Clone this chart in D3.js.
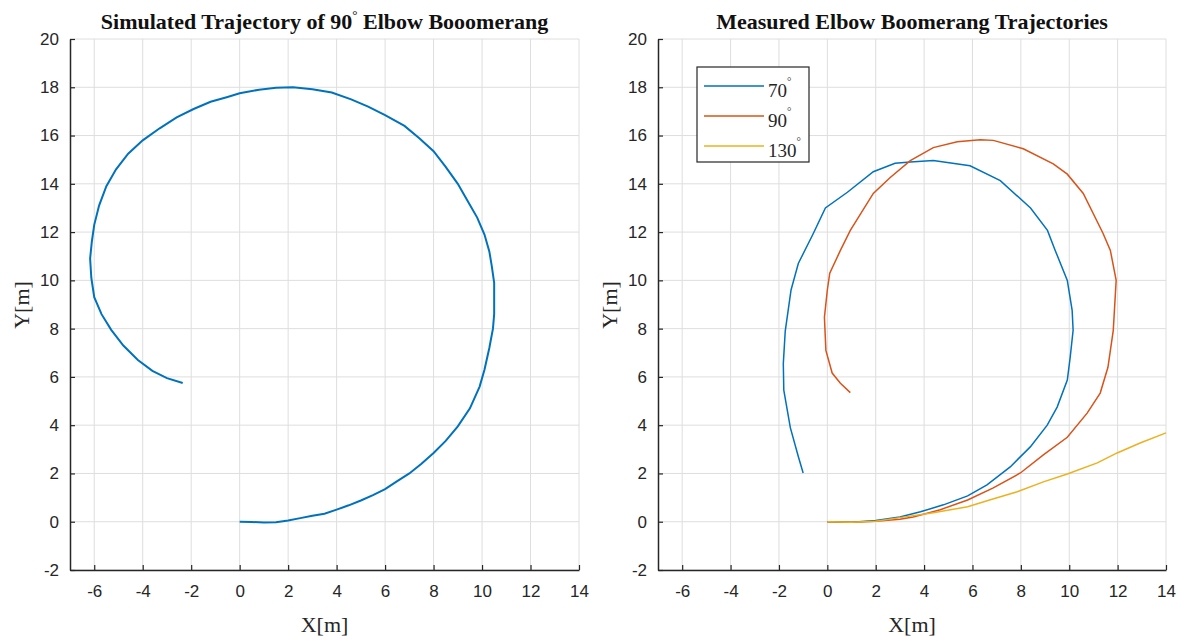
<!DOCTYPE html>
<html>
<head>
<meta charset="utf-8">
<script src="https://cdn.jsdelivr.net/npm/d3@7"></script>
<style>
  body { margin: 0; background: #fff; }
  svg { display: block; }
  .tick text { font-family: "Liberation Sans", Arial, sans-serif; font-size: 17px; fill: #262626; }
  .ttl { font-family: "Liberation Serif", "Times New Roman", serif; font-weight: bold; font-size: 22px; fill: #111; }
  .lab { font-family: "Liberation Serif", "Times New Roman", serif; font-size: 22px; fill: #262626; }
  .leg { font-family: "Liberation Serif", "Times New Roman", serif; font-size: 19px; fill: #262626; }
</style>
</head>
<body>
<script>
// ticks
var xTicks = [-6, -4, -2, 0, 2, 4, 6, 8, 10, 12, 14]
var yTicks = [-2, 0, 2, 4, 6, 8, 10, 12, 14, 16, 18, 20]

// simulated 90 deg trajectory [x, y]
var sim90 = [[0,0],[0.5,-0.01],[1,-0.03],[1.5,-0.02],[2,0.05],[2.5,0.15],[3,0.25],[3.5,0.33],[4,0.5],[4.5,0.68],
  [5,0.88],[5.5,1.1],[6,1.35],[6.5,1.68],[7,2.0],[7.5,2.4],[8,2.85],[8.5,3.35],[9,3.95],[9.5,4.7],[9.9,5.6],
  [10.1,6.3],[10.3,7.2],[10.45,8.0],[10.5,8.6],[10.5,9.2],[10.5,9.9],[10.4,10.6],[10.3,11.2],[10.1,11.9],
  [9.8,12.6],[9.4,13.3],[9.0,14.0],[8.5,14.7],[8.0,15.35],[7.4,15.9],[6.8,16.4],[6.0,16.85],[5.3,17.2],
  [4.6,17.5],[3.8,17.78],[3,17.92],[2.2,18.0],[1.5,17.98],[0.8,17.9],[0,17.75],[-0.5,17.6],[-1.2,17.4],
  [-1.9,17.1],[-2.6,16.75],[-3.3,16.3],[-4.0,15.8],[-4.6,15.25],[-5.1,14.6],[-5.5,13.9],[-5.8,13.1],
  [-6.0,12.3],[-6.1,11.6],[-6.17,10.9],[-6.12,10.1],[-6.0,9.3],[-5.7,8.6],[-5.3,7.95],[-4.8,7.3],
  [-4.2,6.7],[-3.6,6.25],[-3.0,5.95],[-2.35,5.75]]

// measured trajectories [x, y]
var meas70 = [[0,0],[1,-0.02],[2,0.05],[3,0.2],[3.85,0.41],[4.8,0.7],[5.8,1.07],[6.6,1.53],[7.56,2.27],
  [8.39,3.1],[9.09,4.0],[9.5,4.75],[9.92,5.87],[10.04,6.82],[10.16,7.93],[10.12,8.76],[9.92,10.0],
  [9.42,11.24],[9.1,12.07],[8.4,13.0],[7.15,14.13],[5.9,14.75],[4.38,14.97],[3.43,14.9],[2.8,14.85],
  [1.9,14.5],[0.83,13.65],[-0.08,13.0],[-0.6,11.9],[-1.2,10.7],[-1.5,9.6],[-1.74,7.9],[-1.82,6.55],
  [-1.8,5.45],[-1.53,3.9],[-1.2,2.7],[-1.0,2.02]]
var meas90 = [[0,0],[1,-0.02],[2,0.02],[3,0.1],[3.55,0.2],[4.67,0.5],[5.8,0.9],[6.86,1.4],[7.98,2.02],
  [8.93,2.77],[9.92,3.5],[10.74,4.5],[11.28,5.33],[11.6,6.4],[11.82,7.93],[11.94,10.0],[11.7,11.24],
  [11.4,11.94],[10.58,13.6],[9.92,14.4],[9.34,14.83],[8.1,15.45],[6.86,15.8],[6.32,15.83],[5.37,15.74],
  [4.38,15.5],[3.43,14.96],[2.6,14.26],[1.9,13.6],[0.95,12.07],[0.54,11.24],[0.1,10.3],[0.0,9.6],
  [-0.12,8.47],[-0.06,7.1],[0.2,6.16],[0.54,5.74],[0.95,5.35]]
var meas130 = [[0,0],[1,-0.02],[2,0.02],[3,0.17],[4.38,0.37],[5.8,0.62],[6.74,0.91],[7.85,1.24],
  [8.93,1.65],[9.92,1.98],[11.16,2.44],[11.98,2.85],[12.93,3.26],[14,3.68]]

var series = [
  {name: '70', data: meas70, color: '#0072BD'},
  {name: '90', data: meas90, color: '#D95319'},
  {name: '130', data: meas130, color: '#EDB120'}
]

var svg = d3.select('body').append('svg')
    .attr('width', 1179)
    .attr('height', 640)

function panel(x0, x1, title, titleDeg, titleRest) {
  var x = d3.scaleLinear().domain([-7, 14]).range([x0, x1])
  var y = d3.scaleLinear().domain([-2, 20]).range([570, 39])
  var g = svg.append('g')

  // grid
  g.selectAll('line.gx').data(xTicks).enter().append('line')
    .attr('x1', d => x(d)).attr('x2', d => x(d))
    .attr('y1', y(-2)).attr('y2', y(20))
    .attr('stroke', '#dedede').attr('stroke-width', 1)
  g.selectAll('line.gy').data(yTicks).enter().append('line')
    .attr('x1', x(-7)).attr('x2', x(14))
    .attr('y1', d => y(d)).attr('y2', d => y(d))
    .attr('stroke', '#dedede').attr('stroke-width', 1)

  // axes
  g.append('g').attr('transform', 'translate(0,' + y(-2) + ')')
    .call(d3.axisBottom(x).tickValues(xTicks).tickFormat(d => String(d))
      .tickSizeInner(-5).tickSizeOuter(0).tickPadding(15))
  g.append('g').attr('transform', 'translate(' + x(-7) + ',0)')
    .call(d3.axisLeft(y).tickValues(yTicks).tickFormat(d => String(d))
      .tickSizeInner(-5).tickSizeOuter(0).tickPadding(11))
  g.selectAll('.domain').attr('stroke', '#262626').attr('stroke-width', 1.5)
  g.selectAll('.tick line').attr('stroke', '#262626').attr('stroke-width', 1.2)

  // title
  var t = g.append('text').attr('class', 'ttl')
    .attr('x', (x0 + x1) / 2).attr('y', 29).attr('text-anchor', 'middle')
  t.append('tspan').text(title)
  if (titleDeg) {
    t.append('tspan').attr('dy', -10).attr('font-size', 13).attr('font-weight', 'normal').text('°')
    t.append('tspan').attr('dy', 10).text(titleRest)
  }

  g.append('text').attr('class', 'lab')
    .attr('x', (x0 + x1) / 2).attr('y', 632).attr('text-anchor', 'middle').text('X[m]')
  g.append('text').attr('class', 'lab')
    .attr('transform', 'translate(' + (x0 - 41) + ',305) rotate(-90)')
    .attr('text-anchor', 'middle').text('Y[m]')

  return {g: g, x: x, y: y}
}

var left = panel(70, 579, 'Simulated Trajectory of 90', true, ' Elbow Booomerang')
var right = panel(658, 1166, 'Measured Elbow Boomerang Trajectories', false)

var lineL = d3.line().x(d => left.x(d[0])).y(d => left.y(d[1]))
left.g.append('path').datum(sim90)
  .attr('d', lineL)
  .attr('fill', 'none')
  .attr('stroke', '#0072BD')
  .attr('stroke-width', 2)

var lineR = d3.line().x(d => right.x(d[0])).y(d => right.y(d[1]))
right.g.selectAll('path.meas').data(series).enter().append('path')
  .attr('class', 'meas')
  .attr('d', d => lineR(d.data))
  .attr('fill', 'none')
  .attr('stroke', d => d.color)
  .attr('stroke-width', 1.5)

// legend
var leg = right.g.append('g')
leg.append('rect')
  .attr('x', 697).attr('y', 67).attr('width', 112).attr('height', 95)
  .attr('fill', '#fff').attr('stroke', '#262626').attr('stroke-width', 1.2)
var li = leg.selectAll('g.li').data(series).enter().append('g')
  .attr('transform', (d, i) => 'translate(0,' + (86 + i * 30) + ')')
li.append('line')
  .attr('x1', 704).attr('x2', 764)
  .attr('stroke', d => d.color).attr('stroke-width', 1.5)
var lt = li.append('text').attr('class', 'leg').attr('x', 768).attr('y', 11)
lt.append('tspan').text(d => d.name)
lt.append('tspan').attr('dy', -12).attr('font-size', 11).text('°')
</script>
</body>
</html>
